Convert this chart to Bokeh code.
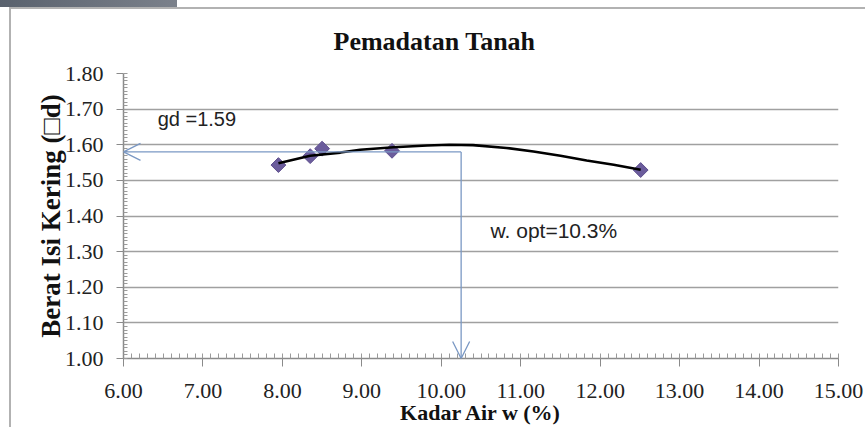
import numpy as np
from bokeh.plotting import figure
from bokeh.models import Range1d, FixedTicker, Label, Arrow, OpenHead
from bokeh.embed import file_html
from bokeh.resources import INLINE

# ---- data ----
kadar_air = [7.95, 8.35, 8.50, 9.38, 12.51]          # water content w (%)
berat_isi = [1.543, 1.568, 1.589, 1.583, 1.529]      # dry density

trend_x = [7.95, 8.35, 8.73, 8.98, 9.40, 9.82, 10.10, 10.40, 10.82, 11.16, 11.50, 11.83, 12.17, 12.51]
trend_y = [1.548, 1.569, 1.578, 1.586, 1.593, 1.598, 1.600, 1.599, 1.591, 1.581, 1.569, 1.556, 1.544, 1.530]

w_opt = 10.25        # drawn position of optimum water content line
gd_max = 1.58        # drawn position of max dry density line
gd_text = "gd =1.59"
wopt_text = "w. opt=10.3%"

x_ticks = [6, 7, 8, 9, 10, 11, 12, 13, 14, 15]
x_tick_labels = ["6.00", "7.00", "8.00", "9.00", "10.00", "11.00", "12.00", "13.00", "14.00", "15.00"]
y_ticks = [1.0, 1.1, 1.2, 1.3, 1.4, 1.5, 1.6, 1.7, 1.8]
y_tick_labels = ["1.00", "1.10", "1.20", "1.30", "1.40", "1.50", "1.60", "1.70", "1.80"]

title_text = "Pemadatan Tanah"
x_label = "Kadar Air w (%)"
y_label = "Berat Isi Kering (\u25a1d)"

SERIF = "Liberation Serif"
SANS = "Liberation Sans"

p = figure(width=865, height=427, output_backend="svg", toolbar_location=None,
           x_range=Range1d(6, 15), y_range=Range1d(1.0, 1.8),
           min_border_left=123, min_border_right=27, min_border_top=73, min_border_bottom=69)
# window frame decoration of the screenshot: dark tab strip and light grey box edges
p.styles = {
    "background": ("linear-gradient(90deg,#59616d,#7b818b) 0 0 / 177px 7px no-repeat,"
                   "linear-gradient(#b2b2b2,#b2b2b2) 9px 7px / 856px 2px no-repeat,"
                   "linear-gradient(#b2b2b2,#b2b2b2) 9px 7px / 2px 420px no-repeat,"
                   "white"),
}
p.outline_line_color = None
p.background_fill_color = "white"
p.border_fill_color = None

# title
p.title.text = title_text
p.title.text_font = SERIF
p.title.text_font_style = "bold"
p.title.text_font_size = "26px"
p.title.text_color = "#111111"
p.title.align = "left"
p.title.offset = 210
p.title.standoff = 36

# axes
x_minor = [round(v, 2) for v in np.arange(6.0, 15.0001, 0.1)]
y_minor = [round(v, 3) for v in np.arange(1.0, 1.8001, 0.01)]
p.xaxis.ticker = FixedTicker(ticks=x_ticks, minor_ticks=x_minor)
p.yaxis.ticker = FixedTicker(ticks=y_ticks, minor_ticks=y_minor)
p.xaxis.major_label_overrides = {t: l for t, l in zip(x_ticks, x_tick_labels)}
p.yaxis.major_label_overrides = {t: l for t, l in zip(y_ticks, y_tick_labels)}

for ax in (p.xaxis, p.yaxis):
    ax.axis_line_color = "#8a8a8a"
    ax.axis_line_width = 1.5
    ax.major_tick_line_color = "#8a8a8a"
    ax.minor_tick_line_color = "#9a9a9a"
    ax.major_label_text_font = SERIF
    ax.major_label_text_font_size = "22px"
    ax.major_label_text_color = "#222222"
    ax.axis_label_text_font = SERIF
    ax.axis_label_text_font_style = "bold"
    ax.axis_label_text_color = "#111111"

p.xaxis.major_tick_out = 8
p.xaxis.major_tick_in = 3
p.xaxis.minor_tick_in = 5
p.xaxis.minor_tick_out = 0
p.xaxis.major_label_standoff = 17
p.xaxis.axis_label = x_label
p.xaxis.axis_label_standoff = -1
p.xaxis.axis_label_text_font_size = "22px"

p.yaxis.major_tick_out = 7
p.yaxis.major_tick_in = 0
p.yaxis.minor_tick_in = 4
p.yaxis.minor_tick_out = 0
p.yaxis.major_label_standoff = 13
p.yaxis.axis_label = y_label
p.yaxis.axis_label_standoff = -4
p.yaxis.axis_label_text_font_size = "27px"

p.xgrid.grid_line_color = None
p.ygrid.grid_line_color = "#a0a0a0"
p.ygrid.grid_line_width = 1.5

# guide arrows
arrow_color = "#7a98c4"
p.add_layout(Arrow(end=OpenHead(size=17, line_color=arrow_color, line_width=1.3),
                   x_start=w_opt, y_start=gd_max, x_end=6.0, y_end=gd_max,
                   line_color=arrow_color, line_width=1.3))
p.add_layout(Arrow(end=OpenHead(size=17, line_color=arrow_color, line_width=1.3),
                   x_start=w_opt, y_start=gd_max, x_end=w_opt, y_end=1.0,
                   line_color=arrow_color, line_width=1.3))

# data
p.scatter(kadar_air, berat_isi, marker="square", angle=np.pi / 4, size=10.5,
          fill_color="#6b5c9c", line_color="#5e4f8e")
p.line(trend_x, trend_y, line_color="black", line_width=2.6)

# annotations
p.add_layout(Label(x=6.43, y=1.672, text=gd_text, text_font=SANS, text_font_size="20px",
                   text_color="#222222", text_baseline="middle"))
p.add_layout(Label(x=10.62, y=1.360, text=wopt_text, text_font=SANS, text_font_size="21px",
                   text_color="#222222", text_baseline="middle"))

open("out.html", "w").write(file_html(p, INLINE))
